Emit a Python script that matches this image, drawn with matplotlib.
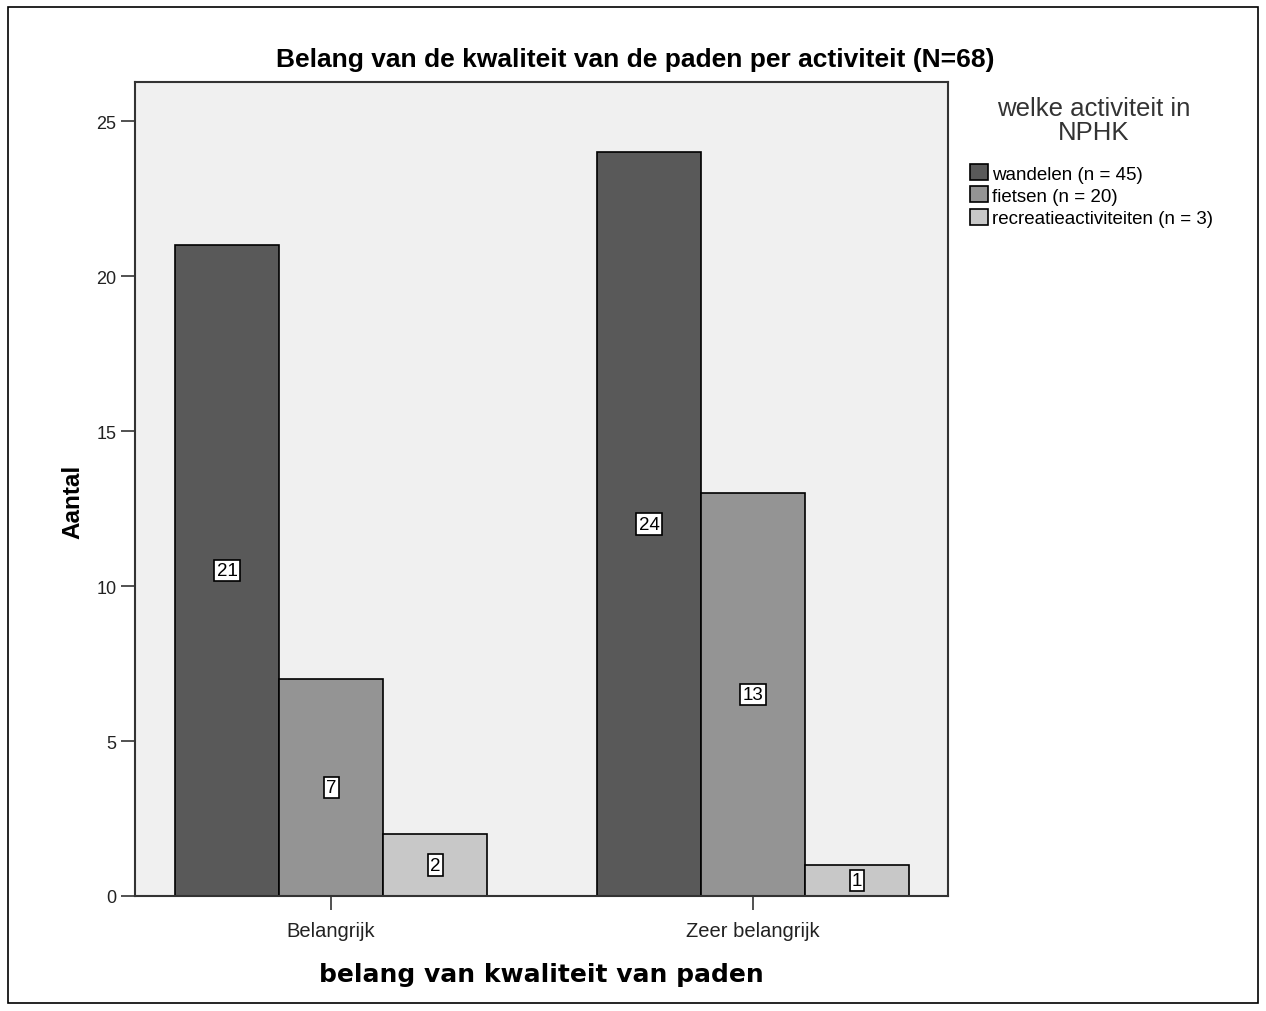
import matplotlib
matplotlib.use("Agg")
import matplotlib.pyplot as plt
import numpy as np
from matplotlib.patches import Rectangle

categories = ["Belangrijk", "Zeer belangrijk"]
series_names = ["wandelen (n = 45)", "fietsen (n = 20)", "recreatieactiviteiten (n = 3)"]
wandelen = [21, 24]
fietsen = [7, 13]
recreatie = [2, 1]
series_values = [wandelen, fietsen, recreatie]
colors = ["#595959", "#949494", "#c8c8c8"]

plain = "Liberation Sans"

fig = plt.figure(figsize=(12.66, 10.12), dpi=100)
fig.patch.set_facecolor("white")
# outer frame
fig.patches.append(Rectangle((8 / 1266, 8 / 1012), 1250 / 1266, 996 / 1012,
                             transform=fig.transFigure, fill=False,
                             edgecolor="black", linewidth=1.2))

ax = fig.add_axes([135 / 1266, 1 - 897 / 1012, 813 / 1266, 814 / 1012])
ax.set_facecolor("#f0f0f0")

x = np.arange(len(categories))
width = 0.2464
for i, (vals, col, name) in enumerate(zip(series_values, colors, series_names)):
    pos = x + (i - 1) * width
    ax.bar(pos, vals, width=width, color=col, edgecolor="black", linewidth=1.2,
           label=name, zorder=2)
    for px, v in zip(pos, vals):
        ax.text(px, v / 2, str(v), ha="center", va="center", fontsize=13.5,
                family=plain, color="black", zorder=3,
                bbox=dict(boxstyle="square,pad=0.12", facecolor="white",
                          edgecolor="black", linewidth=1.2))

ax.set_xlim(-0.4645, 1.462)
ax.set_ylim(0, 26.26)
ax.set_yticks([0, 5, 10, 15, 20, 25])
ax.set_xticks(x)
ax.set_xticklabels(categories)
ax.tick_params(axis="both", direction="out", length=10, width=1.2, color="#333333",
               labelcolor="#222222")
ax.tick_params(axis="y", labelsize=13)
ax.tick_params(axis="x", labelsize=14.5, pad=8)
for lab in ax.get_xticklabels() + ax.get_yticklabels():
    lab.set_family(plain)
for s in ax.spines.values():
    s.set_color("#333333")
    s.set_linewidth(1.5)

ax.set_ylabel("Aantal", fontsize=17.5, fontweight="bold", family=plain)
ax.yaxis.set_label_coords(-51 / 813, 395 / 814)
ax.set_xlabel("belang van kwaliteit van paden", fontsize=18, fontweight="bold",
              family="DejaVu Sans", labelpad=16)

fig.text(0.502, 1 - 60 / 1012, "Belang van de kwaliteit van de paden per activiteit (N=68)",
         ha="center", va="center", fontsize=19, fontweight="bold", family=plain)

fig.text(1094 / 1266, 1 - 121 / 1012, "welke activiteit in\nNPHK", ha="center", va="center",
         fontsize=18.5, family=plain, color="#333333", linespacing=1.05)

handles = [Rectangle((0, 0), 1, 1, facecolor=c, edgecolor="black", linewidth=1.2)
           for c in colors]
leg = fig.legend(handles, series_names, loc="upper left",
                 bbox_to_anchor=(970 / 1266, 1 - 165 / 1012), frameon=False,
                 prop={"family": plain, "size": 13.5}, handlelength=0.95,
                 handleheight=0.95, handletextpad=0.25, labelspacing=0.2,
                 borderaxespad=0, borderpad=0)

fig.savefig("out.png", dpi=100)
